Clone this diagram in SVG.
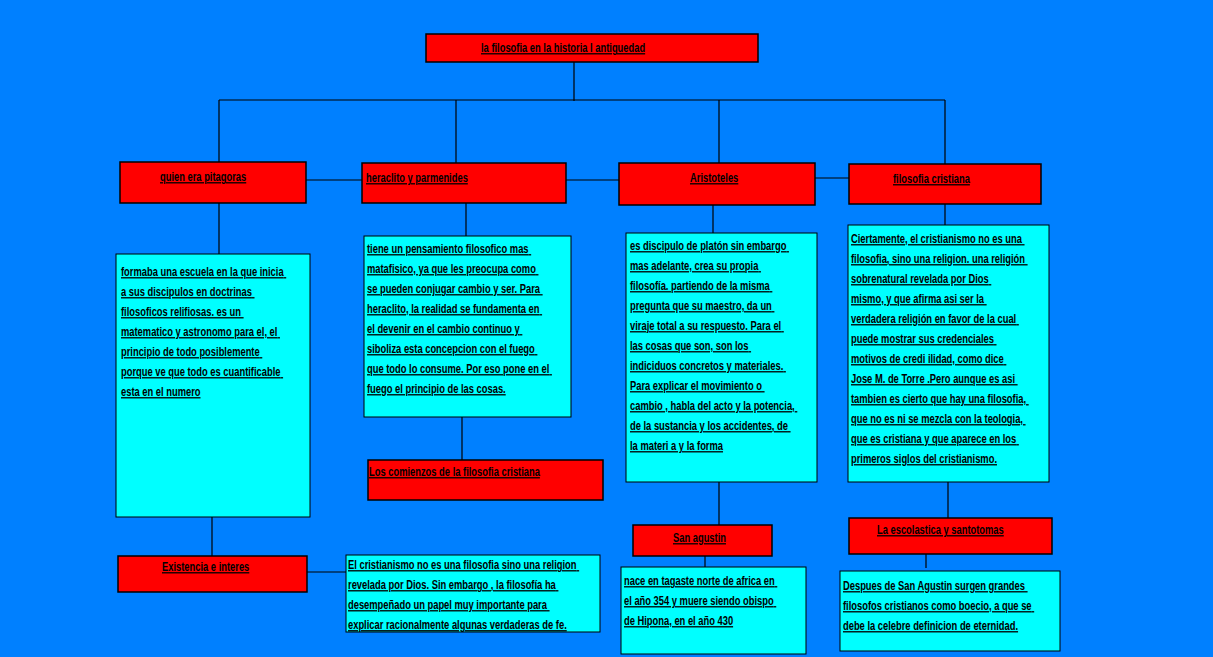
<svg xmlns="http://www.w3.org/2000/svg" width="1213" height="657" viewBox="0 0 1213 657">
<style>
.r{fill:#ff0000;stroke:#000;stroke-width:1.5}
.c{fill:#00ffff;stroke:#000;stroke-width:1}
.t{font-family:"Liberation Sans",Arial,sans-serif;font-weight:bold;font-size:13px;fill:#000;text-decoration:underline}
#connectors line{stroke:#000;stroke-width:1.2}
</style>
<rect width="1213" height="657" fill="#0080ff"/>
<g id="connectors">
<line x1="574" y1="62" x2="574" y2="101"/>
<line x1="219" y1="100" x2="945" y2="100"/>
<line x1="219" y1="100" x2="219" y2="162"/>
<line x1="456" y1="100" x2="456" y2="163"/>
<line x1="719" y1="100" x2="719" y2="163"/>
<line x1="945" y1="100" x2="945" y2="164"/>
<line x1="306" y1="180" x2="362" y2="180"/>
<line x1="566" y1="180" x2="619" y2="180"/>
<line x1="815" y1="178" x2="849" y2="178"/>
<line x1="219" y1="203" x2="219" y2="254"/>
<line x1="212" y1="517" x2="212" y2="556"/>
<line x1="307" y1="572" x2="346" y2="572"/>
<line x1="466" y1="203" x2="466" y2="236"/>
<line x1="462" y1="417" x2="462" y2="460"/>
<line x1="713" y1="205" x2="713" y2="233"/>
<line x1="719" y1="482" x2="719" y2="525"/>
<line x1="705" y1="556" x2="705" y2="567"/>
<line x1="945" y1="204" x2="945" y2="225"/>
<line x1="948" y1="482" x2="948" y2="518"/>
<line x1="926" y1="554" x2="926" y2="568"/>
</g>
<g id="root"><rect class="r" x="426" y="34" width="332" height="28"/>
<g transform="translate(481 0) scale(0.72 1)"><text class="t" x="0" y="52">la filosofia  en la historia I antiguedad</text></g></g>
<g id="pitagoras"><rect class="r" x="120" y="162" width="186" height="41"/>
<g transform="translate(160 0) scale(0.72 1)"><text class="t" x="0" y="181">quien era pitagoras</text></g></g>
<g id="heraclito"><rect class="r" x="362" y="163" width="204" height="40"/>
<g transform="translate(366 0) scale(0.72 1)"><text class="t" x="0" y="182">heraclito  y parmenides</text></g></g>
<g id="aristoteles"><rect class="r" x="619" y="163" width="196" height="42"/>
<g transform="translate(690 0) scale(0.72 1)"><text class="t" x="0" y="182">Aristoteles</text></g></g>
<g id="filcristiana"><rect class="r" x="849" y="164" width="192" height="40"/>
<g transform="translate(893 0) scale(0.72 1)"><text class="t" x="0" y="183">filosofia cristiana</text></g></g>
<g id="pitagoras-body"><rect class="c" x="116" y="254" width="194" height="263"/>
<g transform="translate(121 0) scale(0.72 1)"><text class="t">
<tspan x="0" y="276">formaba una escuela en la que inicia</tspan>
<tspan x="0" y="296">a sus discipulos en doctrinas</tspan>
<tspan x="0" y="316">filosoficos relifiosas. es un</tspan>
<tspan x="0" y="336">matematico y astronomo para el, el</tspan>
<tspan x="0" y="356">principio de todo posiblemente</tspan>
<tspan x="0" y="376">porque ve que todo es cuantificable</tspan>
<tspan x="0" y="396">esta en el numero</tspan></text></g></g>
<g id="existencia"><rect class="r" x="118" y="556" width="189" height="36"/>
<g transform="translate(162 0) scale(0.72 1)"><text class="t" x="0" y="571">Existencia e interes</text></g></g>
<g id="existencia-body"><rect class="c" x="346" y="555" width="254" height="77"/>
<g transform="translate(348 0) scale(0.72 1)"><text class="t">
<tspan x="0" y="569">El cristianismo no es una filosofia sino una religion</tspan>
<tspan x="0" y="589">revelada por Dios. Sin embargo , la filosofía ha</tspan>
<tspan x="0" y="609">desempeñado un papel muy importante para</tspan>
<tspan x="0" y="629">explicar racionalmente algunas verdaderas de fe.</tspan></text></g></g>
<g id="heraclito-body"><rect class="c" x="364" y="236" width="207" height="181"/>
<g transform="translate(367 0) scale(0.72 1)"><text class="t">
<tspan x="0" y="253">tiene un pensamiento filosofico mas</tspan>
<tspan x="0" y="273">matafisico, ya que les preocupa como</tspan>
<tspan x="0" y="293">se pueden conjugar cambio y ser. Para</tspan>
<tspan x="0" y="313">heraclito, la realidad  se fundamenta en</tspan>
<tspan x="0" y="333">el devenir en el cambio continuo y</tspan>
<tspan x="0" y="353">siboliza esta concepcion con el fuego</tspan>
<tspan x="0" y="373">que todo lo consume. Por eso pone en el</tspan>
<tspan x="0" y="393">fuego el principio de las cosas.</tspan></text></g></g>
<g id="comienzos"><rect class="r" x="368" y="460" width="235" height="40"/>
<g transform="translate(369 0) scale(0.72 1)"><text class="t" x="0" y="476">Los comienzos de la filosofia cristiana</text></g></g>
<g id="aristoteles-body"><rect class="c" x="626" y="233" width="191" height="249"/>
<g transform="translate(630 0) scale(0.72 1)"><text class="t">
<tspan x="0" y="250">es discipulo de platón sin embargo</tspan>
<tspan x="0" y="270">mas adelante, crea su propia</tspan>
<tspan x="0" y="290">filosofía. partiendo de la misma</tspan>
<tspan x="0" y="310">pregunta que su maestro, da un</tspan>
<tspan x="0" y="330">viraje total a su respuesto. Para el</tspan>
<tspan x="0" y="350">las cosas que son, son los</tspan>
<tspan x="0" y="370">indiciduos concretos  y materiales.</tspan>
<tspan x="0" y="390">Para explicar  el movimiento o</tspan>
<tspan x="0" y="410">cambio , habla del acto y la potencia,</tspan>
<tspan x="0" y="430">de la sustancia  y los accidentes, de</tspan>
<tspan x="0" y="450">la materi a y la forma</tspan></text></g></g>
<g id="sanagustin"><rect class="r" x="633" y="525" width="139" height="31"/>
<g transform="translate(673 0) scale(0.72 1)"><text class="t" x="0" y="542">San agustin</text></g></g>
<g id="sanagustin-body"><rect class="c" x="621" y="567" width="185" height="87"/>
<g transform="translate(624 0) scale(0.72 1)"><text class="t">
<tspan x="0" y="585">nace en tagaste norte de africa en</tspan>
<tspan x="0" y="605">el año 354 y muere siendo obispo</tspan>
<tspan x="0" y="625">de Hipona, en el año 430</tspan></text></g></g>
<g id="filcristiana-body"><rect class="c" x="848" y="225" width="201" height="257"/>
<g transform="translate(851 0) scale(0.72 1)"><text class="t">
<tspan x="0" y="243">Ciertamente, el cristianismo no es una</tspan>
<tspan x="0" y="263">filosofia, sino una religion. una religión</tspan>
<tspan x="0" y="283">sobrenatural revelada por Dios</tspan>
<tspan x="0" y="303">mismo, y que afirma asi ser la</tspan>
<tspan x="0" y="323">verdadera religión en favor de la cual</tspan>
<tspan x="0" y="343">puede mostrar sus credenciales</tspan>
<tspan x="0" y="363">motivos de credi  ilidad, como dice</tspan>
<tspan x="0" y="383">Jose M. de Torre .Pero aunque es asi</tspan>
<tspan x="0" y="403">tambien es cierto que hay una filosofia,</tspan>
<tspan x="0" y="423">que no es ni se mezcla con la teologia,</tspan>
<tspan x="0" y="443">que es cristiana y que aparece en los</tspan>
<tspan x="0" y="463">primeros siglos del cristianismo.</tspan></text></g></g>
<g id="escolastica"><rect class="r" x="849" y="518" width="203" height="36"/>
<g transform="translate(877 0) scale(0.72 1)"><text class="t" x="0" y="534">La escolastica y santotomas</text></g></g>
<g id="escolastica-body"><rect class="c" x="840" y="571" width="220" height="80"/>
<g transform="translate(843 0) scale(0.72 1)"><text class="t">
<tspan x="0" y="590">Despues de San Agustin surgen grandes</tspan>
<tspan x="0" y="610">filosofos cristianos como boecio, a que se</tspan>
<tspan x="0" y="630">debe la celebre definicion de eternidad.</tspan></text></g></g>
</svg>
